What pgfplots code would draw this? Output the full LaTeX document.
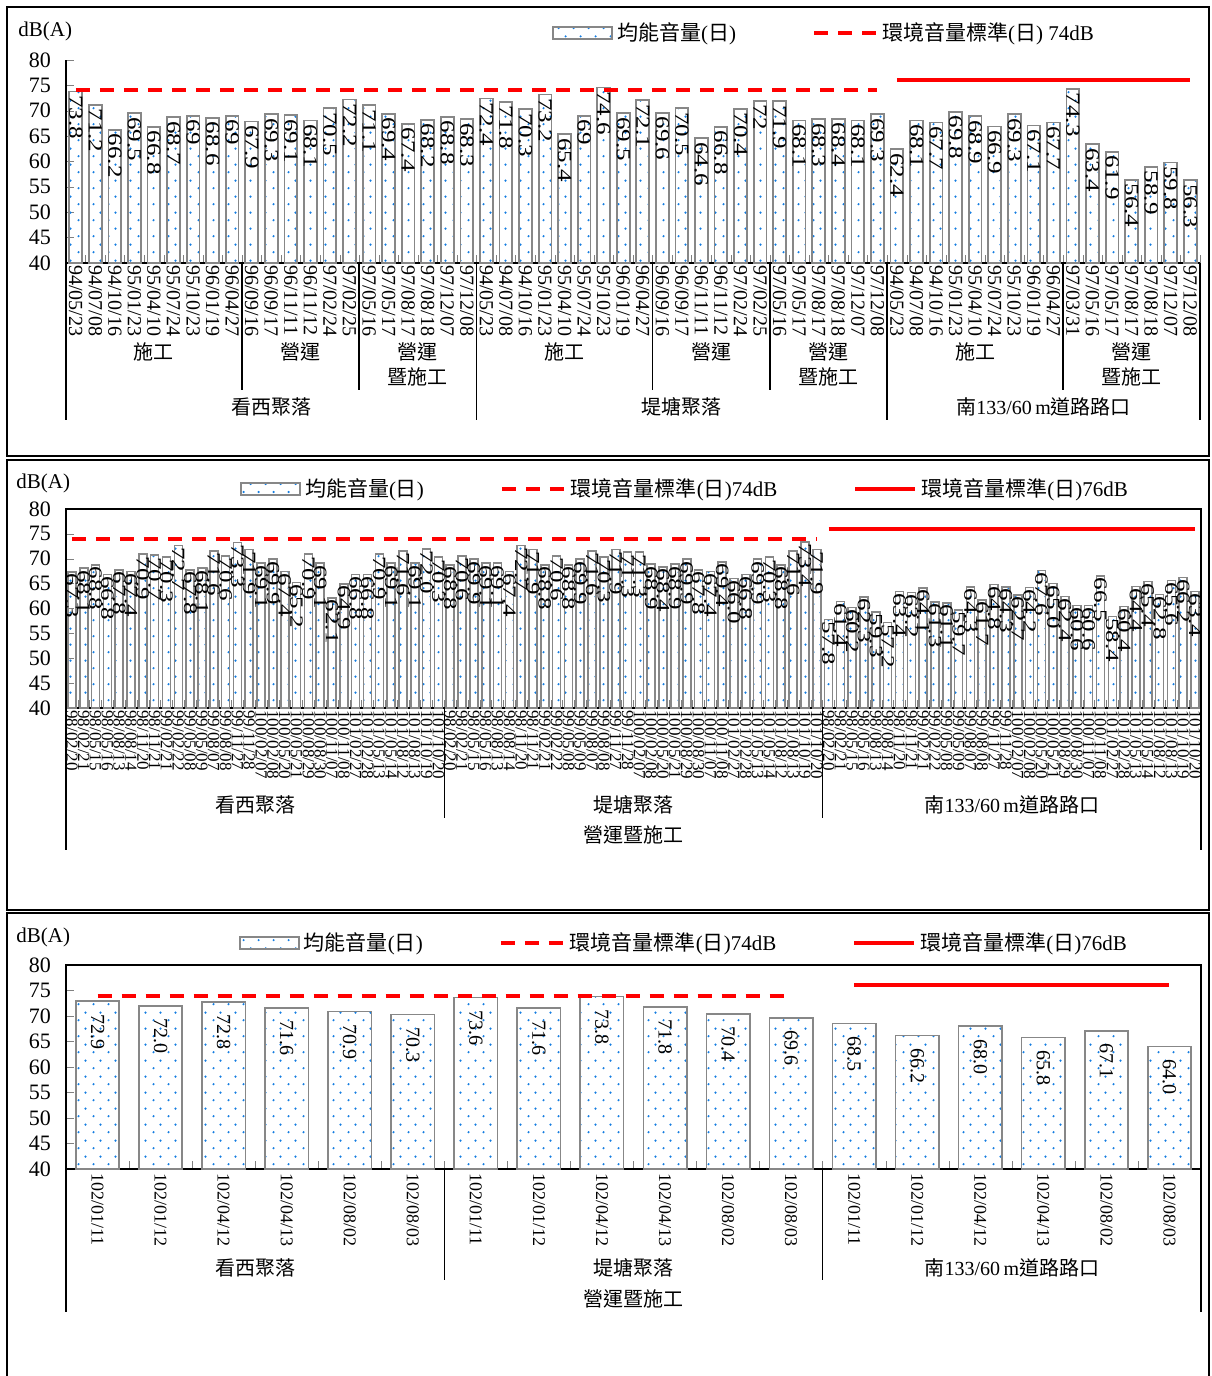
\documentclass[border=0pt]{standalone}
\usepackage{pgfplots}
\pgfplotsset{compat=1.18}
\usepackage{fontspec}
\setmainfont{Liberation Serif}
\newfontfamily\cjk{Noto Sans CJK TC}
\newcommand{\zh}[1]{{\cjk #1}}
\usetikzlibrary{patterns.meta}
\definecolor{dotblue}{RGB}{20,125,225}
\definecolor{bargray}{RGB}{135,135,135}
\definecolor{stdred}{RGB}{255,0,0}
\tikzdeclarepattern{
  name=bdots, type=colored,
  bounding box={(0pt,0pt) and (7.5pt,8pt)},
  tile size={(7.5pt,8pt)},
  code={\fill[dotblue] (1.9pt,2pt) circle (0.62pt); \fill[dotblue] (5.6pt,6pt) circle (0.62pt);}
}
\pgfplotsset{
  base/.style={
    scale only axis, anchor=south west, ymin=40, ymax=80, ytick={40,45,...,80},
    /pgf/number format/assume math mode=true,
    yticklabel style={font=\fontsize{11}{12}\selectfont, xshift=-4pt},
    major x tick style={draw=none}, minor tick length=4pt, major tick length=4pt,
    axis line style={line width=1pt}, clip=false,
    legend style={draw=none, fill=none, legend columns=-1, inner sep=0pt,
      font=\fontsize{10.5}{12}\selectfont,
      /tikz/every even column/.append style={column sep=36pt}},
  },
  barleg/.style={legend image code/.code={\draw[##1] (0pt,-3pt) rectangle (29.5pt,3pt);}},
  lineleg/.style={legend image code/.code={\draw[##1] (0pt,0pt) -- (#1,0pt);}},
}
\begin{document}
\begin{tikzpicture}
\begin{scope}[x=0.5pt,y=-0.5pt]
\useasboundingbox (0,0) rectangle (1211,1376);
\draw[line width=1pt] (7,7) rectangle (1209,456);
\draw[line width=1pt] (7,460) rectangle (1209,910);
\draw[line width=1pt] (7,1376) -- (7,913) -- (1209,913) -- (1209,1376);
\node[anchor=west, font=\fontsize{10.5}{12}\selectfont, inner sep=0pt] at (18,31) {dB(A)};
\node[anchor=west, font=\fontsize{10.5}{12}\selectfont, inner sep=0pt] at (16,483) {dB(A)};
\node[anchor=west, font=\fontsize{10.5}{12}\selectfont, inner sep=0pt] at (16,937) {dB(A)};
\end{scope}

% ---------------- Panel 1 ----------------
\begin{axis}[base, at={(33pt,-131.5pt)}, width=567pt, height=101.5pt,
  xmin=-0.5, xmax=57.5,
  axis x line*=bottom, axis y line*=left,
  xtick={0,...,57},
  xticklabels={94/05/23,94/07/08,94/10/16,95/01/23,95/04/10,95/07/24,95/10/23,96/01/19,96/04/27,96/09/16,96/09/17,96/11/11,96/11/12,97/02/24,97/02/25,97/05/16,97/05/17,97/08/17,97/08/18,97/12/07,97/12/08,
  94/05/23,94/07/08,94/10/16,95/01/23,95/04/10,95/07/24,95/10/23,96/01/19,96/04/27,96/09/16,96/09/17,96/11/11,96/11/12,97/02/24,97/02/25,97/05/16,97/05/17,97/08/17,97/08/18,97/12/07,97/12/08,
  94/05/23,94/07/08,94/10/16,95/01/23,95/04/10,95/07/24,95/10/23,96/01/19,96/04/27,97/03/31,97/05/16,97/05/17,97/08/17,97/08/18,97/12/07,97/12/08},
  minor xtick={-0.5,0.5,...,57.5},
  x tick label style={rotate=-90, anchor=west, font=\fontsize{10}{10}\selectfont, inner sep=1pt},
  legend style={at={(0.4286,1.133)}, anchor=west},
]
\addplot[ybar, bar shift=0pt, bar width=6.4pt, draw=bargray, line width=0.9pt, pattern=bdots,
  nodes near coords={\scalebox{1}[0.8]{\pgfmathprintnumber{\pgfplotspointmeta}}},
  nodes near coords style={rotate=-90, anchor=west, text=black, inner xsep=1.5pt, inner ysep=0pt, font=\fontsize{12.5}{12.5}\selectfont},
  barleg]
coordinates {(0,73.8)(1,71.2)(2,66.2)(3,69.5)(4,66.8)(5,68.7)(6,69)(7,68.6)(8,69)(9,67.9)(10,69.3)(11,69.1)(12,68.1)(13,70.5)(14,72.2)(15,71.1)(16,69.4)(17,67.4)(18,68.2)(19,68.8)(20,68.3)
(21,72.4)(22,71.8)(23,70.3)(24,73.2)(25,65.4)(26,69)(27,74.6)(28,69.5)(29,72.1)(30,69.6)(31,70.5)(32,64.6)(33,66.8)(34,70.4)(35,72)(36,71.9)(37,68.1)(38,68.3)(39,68.4)(40,68.1)(41,69.3)
(42,62.4)(43,68.1)(44,67.7)(45,69.8)(46,68.9)(47,66.9)(48,69.3)(49,67.1)(50,67.7)(51,74.3)(52,63.4)(53,61.9)(54,56.4)(55,58.9)(56,59.8)(57,56.3)};
\addlegendentry{\zh{均能音量}(\zh{日})}
\addplot[stdred, line width=2pt, dash pattern=on 7pt off 5pt, mark=none, lineleg=31pt] coordinates {(0,74) (41,74)};
\addlegendentry{\zh{環境音量標準}(\zh{日}) 74dB}
\addplot[stdred, line width=2pt, mark=none, forget plot] coordinates {(42,76) (57,76)};
% separators
\draw[line width=0.8pt] (axis cs:-0.5,40) -- ++(0pt,-78.5pt);
\draw[line width=0.8pt] (axis cs:20.5,40) -- ++(0pt,-78.5pt);
\draw[line width=0.8pt] (axis cs:41.5,40) -- ++(0pt,-78.5pt);
\draw[line width=0.8pt] (axis cs:57.5,40) -- ++(0pt,-78.5pt);
\draw[line width=0.8pt] (axis cs:8.5,40) -- ++(0pt,-63.5pt);
\draw[line width=0.8pt] (axis cs:14.5,40) -- ++(0pt,-63.5pt);
\draw[line width=0.8pt] (axis cs:29.5,40) -- ++(0pt,-63.5pt);
\draw[line width=0.8pt] (axis cs:35.5,40) -- ++(0pt,-63.5pt);
\draw[line width=0.8pt] (axis cs:50.5,40) -- ++(0pt,-63.5pt);
\begin{scope}[every node/.style={font=\fontsize{10}{12}\selectfont, inner sep=0pt}]
\node at ([yshift=-44.5pt]axis cs:4,40) {\zh{施工}};
\node at ([yshift=-44.5pt]axis cs:11.5,40) {\zh{營運}};
\node at ([yshift=-44.5pt]axis cs:17.5,40) {\zh{營運}};
\node at ([yshift=-57pt]axis cs:17.5,40) {\zh{暨施工}};
\node at ([yshift=-44.5pt]axis cs:25,40) {\zh{施工}};
\node at ([yshift=-44.5pt]axis cs:32.5,40) {\zh{營運}};
\node at ([yshift=-44.5pt]axis cs:38.5,40) {\zh{營運}};
\node at ([yshift=-57pt]axis cs:38.5,40) {\zh{暨施工}};
\node at ([yshift=-44.5pt]axis cs:46,40) {\zh{施工}};
\node at ([yshift=-44.5pt]axis cs:54,40) {\zh{營運}};
\node at ([yshift=-57pt]axis cs:54,40) {\zh{暨施工}};
\node at ([yshift=-72pt]axis cs:10,40) {\zh{看西聚落}};
\node at ([yshift=-72pt]axis cs:31,40) {\zh{堤塘聚落}};
\node at ([yshift=-72pt]axis cs:49.5,40) {\zh{南}133/60\,m\zh{道路路口}};
\end{scope}
\end{axis}

% ---------------- Panel 2 ----------------
\begin{axis}[base, at={(33pt,-354pt)}, width=567.5pt, height=99.5pt,
  xmin=-0.5, xmax=95.5, tick pos=left,
  xtick={0,...,95},
  xticklabels={98/02/20,98/02/21,98/05/15,98/05/16,98/08/13,98/08/14,98/11/20,98/11/21,99/02/21,99/02/22,99/05/08,99/05/09,99/08/07,99/08/08,99/11/27,99/11/28,100/02/07,100/02/08,100/05/20,100/05/21,100/08/29,100/08/30,100/11/07,100/11/08,101/02/27,101/02/28,101/05/13,101/05/14,101/08/12,101/08/13,101/10/19,101/10/20,
  98/02/20,98/02/21,98/05/15,98/05/16,98/08/13,98/08/14,98/11/20,98/11/21,99/02/21,99/02/22,99/05/08,99/05/09,99/08/07,99/08/08,99/11/27,99/11/28,100/02/07,100/02/08,100/05/20,100/05/21,100/08/29,100/08/30,100/11/07,100/11/08,101/02/27,101/02/28,101/05/13,101/05/14,101/08/12,101/08/13,101/10/19,101/10/20,
  98/02/20,98/02/21,98/05/15,98/05/16,98/08/13,98/08/14,98/11/20,98/11/21,99/02/21,99/02/22,99/05/08,99/05/09,99/08/07,99/08/08,99/11/27,99/11/28,100/02/07,100/02/08,100/05/20,100/05/21,100/08/29,100/08/30,100/11/07,100/11/08,101/02/27,101/02/28,101/05/13,101/05/14,101/08/12,101/08/13,101/10/19,101/10/20},
  minor xtick={-0.5,0.5,...,95.5},
  x tick label style={rotate=-90, anchor=west, font=\fontsize{8.5}{8.5}\selectfont, inner sep=1pt},
  legend style={at={(0.1533,1.1005)}, anchor=west},
]
\addplot[ybar, bar shift=0pt, bar width=4pt, draw=bargray, line width=0.8pt, pattern=bdots,
  nodes near coords={\scalebox{1}[0.75]{\pgfmathprintnumber[fixed,fixed zerofill,precision=1]{\pgfplotspointmeta}}},
  nodes near coords style={rotate=-90, anchor=west, text=black, inner xsep=0.5pt, inner ysep=0pt, font=\fontsize{12.5}{12.5}\selectfont},
  barleg]
coordinates {(0,67.3)(1,68.1)(2,68.8)(3,66.8)(4,67.8)(5,67.4)(6,70.9)(7,70.7)(8,70.3)(9,72.7)(10,67.8)(11,68.1)(12,71.6)(13,70.6)(14,73.3)(15,71.9)(16,69.1)(17,69.9)(18,67.4)(19,65.2)(20,70.9)(21,69.1)(22,62.1)(23,64.9)(24,66.8)(25,66.8)(26,70.9)(27,69.1)(28,71.6)(29,69.1)(30,72.0)(31,70.3)
(32,68.8)(33,70.6)(34,69.9)(35,69.1)(36,69.1)(37,67.4)(38,72.7)(39,71.9)(40,68.8)(41,70.6)(42,68.8)(43,69.9)(44,71.6)(45,70.3)(46,71.9)(47,71.3)(48,71.3)(49,68.9)(50,68.4)(51,68.9)(52,69.9)(53,67.8)(54,67.4)(55,69.4)(56,66.0)(57,66.8)(58,69.9)(59,70.3)(60,68.8)(61,71.6)(62,73.4)(63,71.9)
(64,57.8)(65,61.4)(66,60.2)(67,62.3)(68,59.3)(69,57.2)(70,63.4)(71,63.2)(72,64.1)(73,61.3)(74,61.1)(75,59.7)(76,64.3)(77,61.7)(78,64.8)(79,64.3)(80,62.7)(81,64.2)(82,67.6)(83,65.0)(84,62.4)(85,60.6)(86,60.6)(87,66.5)(88,58.4)(89,60.4)(90,64.4)(91,65.4)(92,62.8)(93,65.6)(94,66.2)(95,63.4)};
\addlegendentry{\zh{均能音量}(\zh{日})}
\addplot[stdred, line width=2pt, dash pattern=on 7pt off 5pt, mark=none, lineleg=31.5pt] coordinates {(0,74) (63,74)};
\addlegendentry{\zh{環境音量標準}(\zh{日})74dB}
\addplot[stdred, line width=2pt, mark=none, lineleg=30pt] coordinates {(64,76) (95,76)};
\addlegendentry{\zh{環境音量標準}(\zh{日})76dB}
\draw[line width=0.8pt] (axis cs:-0.5,40) -- ++(0pt,-71pt);
\draw[line width=0.8pt] (axis cs:95.5,40) -- ++(0pt,-71pt);
\draw[line width=0.8pt] (axis cs:31.5,40) -- ++(0pt,-55pt);
\draw[line width=0.8pt] (axis cs:63.5,40) -- ++(0pt,-55pt);
\begin{scope}[every node/.style={font=\fontsize{10}{12}\selectfont, inner sep=0pt}]
\node at ([yshift=-48.5pt]axis cs:15.5,40) {\zh{看西聚落}};
\node at ([yshift=-48.5pt]axis cs:47.5,40) {\zh{堤塘聚落}};
\node at ([yshift=-48.5pt]axis cs:79.5,40) {\zh{南}133/60\,m\zh{道路路口}};
\node at ([yshift=-63.5pt]axis cs:47.5,40) {\zh{營運暨施工}};
\end{scope}
\end{axis}

% ---------------- Panel 3 ----------------
\begin{axis}[base, at={(33pt,-584.5pt)}, width=567.5pt, height=102pt,
  xmin=-0.5, xmax=17.5, tick pos=left,
  xtick={0,...,17},
  xticklabels={102/01/11,102/01/12,102/04/12,102/04/13,102/08/02,102/08/03,102/01/11,102/01/12,102/04/12,102/04/13,102/08/02,102/08/03,102/01/11,102/01/12,102/04/12,102/04/13,102/08/02,102/08/03},
  minor xtick={-0.5,0.5,...,17.5},
  x tick label style={rotate=-90, anchor=west, font=\fontsize{9}{9}\selectfont, inner sep=2pt},
  legend style={at={(0.1524,1.108)}, anchor=west},
]
\addplot[ybar, bar shift=0pt, bar width=21.7pt, draw=bargray, line width=0.8pt, pattern=bdots,
  nodes near coords={\pgfmathprintnumber[fixed,fixed zerofill,precision=1]{\pgfplotspointmeta}},
  nodes near coords style={rotate=-90, anchor=west, text=black, inner xsep=6pt, inner ysep=0pt, font=\fontsize{10}{10}\selectfont},
  barleg]
coordinates {(0,72.9)(1,72.0)(2,72.8)(3,71.6)(4,70.9)(5,70.3)(6,73.6)(7,71.6)(8,73.8)(9,71.8)(10,70.4)(11,69.6)(12,68.5)(13,66.2)(14,68.0)(15,65.8)(16,67.1)(17,64.0)};
\addlegendentry{\zh{均能音量}(\zh{日})}
\addplot[stdred, line width=2pt, dash pattern=on 7pt off 5pt, mark=none, lineleg=31.5pt] coordinates {(0,74) (11,74)};
\addlegendentry{\zh{環境音量標準}(\zh{日})74dB}
\addplot[stdred, line width=2pt, mark=none, lineleg=30pt] coordinates {(12,76) (17,76)};
\addlegendentry{\zh{環境音量標準}(\zh{日})76dB}
\draw[line width=0.8pt] (axis cs:-0.5,40) -- ++(0pt,-71.5pt);
\draw[line width=0.8pt] (axis cs:17.5,40) -- ++(0pt,-71.5pt);
\draw[line width=0.8pt] (axis cs:5.5,40) -- ++(0pt,-55.5pt);
\draw[line width=0.8pt] (axis cs:11.5,40) -- ++(0pt,-55.5pt);
\begin{scope}[every node/.style={font=\fontsize{10}{12}\selectfont, inner sep=0pt}]
\node at ([yshift=-49.5pt]axis cs:2.5,40) {\zh{看西聚落}};
\node at ([yshift=-49.5pt]axis cs:8.5,40) {\zh{堤塘聚落}};
\node at ([yshift=-49.5pt]axis cs:14.5,40) {\zh{南}133/60\,m\zh{道路路口}};
\node at ([yshift=-65pt]axis cs:8.5,40) {\zh{營運暨施工}};
\end{scope}
\end{axis}
\end{tikzpicture}
\end{document}
